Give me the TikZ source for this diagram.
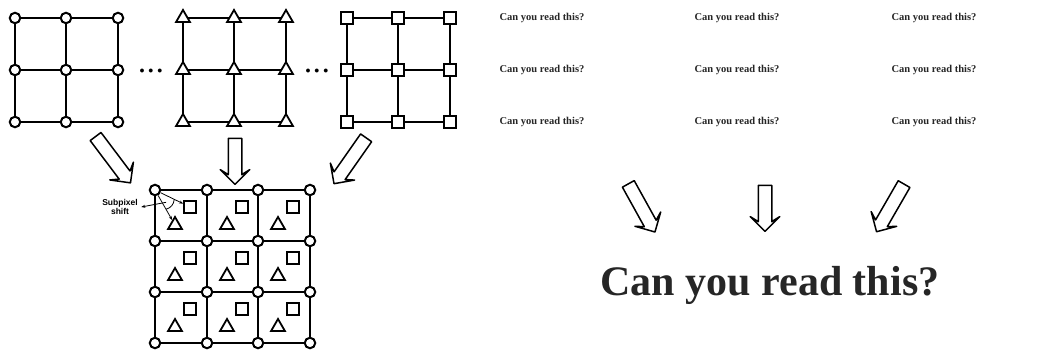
\documentclass[tikz,border=0pt]{standalone}
\usepackage{fontspec}
\setmainfont{Liberation Serif}
\newfontfamily\labelfont{Liberation Sans}
\usepackage{tikz}
\usetikzlibrary{positioning, arrows.meta, calc, shapes.geometric, shapes.arrows}

\begin{document}
\begin{tikzpicture}[
    x=1pt, y=-1pt,
    pt/.style={draw, line width=2pt, fill=white, inner sep=0pt},
    dotpt/.style={pt, circle, minimum size=10.5pt},
    tript/.style={pt, regular polygon, regular polygon sides=3, minimum size=16pt, line width=1.8pt},
    sqpt/.style={pt, rectangle, minimum size=12pt, line width=1.7pt},
    gridline/.style={line width=1.5pt},
    bigarrow/.style={draw, line width=1.5pt, line join=round, fill=white, single arrow,
                     inner xsep=0pt, inner ysep=6pt,
                     single arrow head extend=8pt,
                     single arrow head indent=5pt, minimum height=#1},
    smalltxt/.style={font=\bfseries\fontsize{10.5}{12}\selectfont, text=black!85},
    arr/.style={-{Stealth[length=4pt]}, line width=0.8pt},
]
\useasboundingbox (0,0) rectangle (1045,355);

% three low resolution grids
\foreach \i/\x in {0/15,1/66,2/118} {
  \foreach \j/\y in {0/18,1/70,2/122} {
    \coordinate (a-\i-\j) at (\x,\y);
    \coordinate (b-\i-\j) at (\x+168,\y);
    \coordinate (q-\i-\j) at (\x+332,\y);
  }
}
\foreach \g in {a,b,q} {
  \foreach \k in {0,1,2} {
    \draw[gridline] (\g-0-\k) -- (\g-2-\k);
    \draw[gridline] (\g-\k-0) -- (\g-\k-2);
  }
}
\foreach \i in {0,1,2} {
  \foreach \j in {0,1,2} {
    \node[dotpt] (c-\i-\j) at (a-\i-\j) {};
    \node[tript] (t-\i-\j) at (b-\i-\j) {};
    \node[sqpt] (s-\i-\j) at (q-\i-\j) {};
  }
}
\node (dots1) at (151,71) {$\bullet\,\bullet\,\bullet$};
\node (dots2) at (317,71) {$\bullet\,\bullet\,\bullet$};

% block arrows to the merged grid
\node[bigarrow=58pt, rotate=-53] (arrA) at (111,157) {};
\node[bigarrow=46pt, rotate=-90] (arrB) at (235,158) {};
\node[bigarrow=56pt, rotate=-125] (arrC) at (352,158) {};

% merged high resolution grid
\foreach \i/\x in {0/155,1/207,2/258,3/310} {
  \foreach \j/\y in {0/190,1/241,2/292,3/343} {
    \coordinate (m-\i-\j) at (\x,\y);
  }
}
\foreach \k in {0,1,2,3} {
  \draw[line width=2pt] (m-0-\k) -- (m-3-\k);
  \draw[line width=2pt] (m-\k-0) -- (m-\k-3);
}
\foreach \i in {0,1,2} {
  \foreach \j in {0,1,2} {
    \node[sqpt] (ms-\i-\j) at ($(m-\i-\j)+(35,17)$) {};
    \node[tript] (mt-\i-\j) at ($(m-\i-\j)+(20,35)$) {};
  }
}
\foreach \i in {0,1,2,3} {
  \foreach \j in {0,1,2,3} {
    \node[dotpt] (mc-\i-\j) at (m-\i-\j) {};
  }
}

% subpixel shift
\node[font=\labelfont\bfseries\fontsize{8.5}{9}\selectfont, align=center] (shiftlbl) at (120,207) {Subpixel\\shift};
\draw[arr] (mc-0-0) -- (ms-0-0);
\draw[arr] (mc-0-0) -- (mt-0-0);
\coordinate (arcA) at ($(mc-0-0)!0.55!(ms-0-0)$);
\coordinate (arcB) at ($(mc-0-0)!0.55!(mt-0-0)$);
\draw[line width=0.8pt] (arcA) to[bend left=35] (arcB);
\coordinate (arcmid) at ($(arcA)!0.5!(arcB)+(-4,-2)$);
\draw[arr] (arcmid) -- (shiftlbl.east);

% low resolution text
\foreach \i/\x in {0/542,1/737,2/934} {
  \foreach \j/\y in {0/18,1/70,2/122} {
    \node[smalltxt] (txt-\i-\j) at (\x,\y) {Can you read this?};
  }
}
\node[bigarrow=55pt, rotate=-61] (arrD) at (640,205) {};
\node[bigarrow=46pt, rotate=-90] (arrE) at (765,205) {};
\node[bigarrow=55pt, rotate=-120] (arrF) at (892,205) {};

\node[font=\bfseries\fontsize{42}{46}\selectfont, text=black!85] (result) at (770,285) {Can you read this?};

\end{tikzpicture}
\end{document}
